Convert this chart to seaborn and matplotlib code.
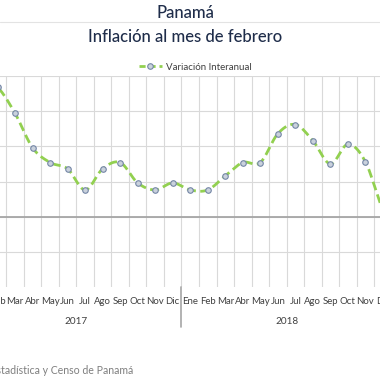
import numpy as np
import pandas as pd
import matplotlib
matplotlib.use('Agg')
import matplotlib.pyplot as plt
import matplotlib.transforms as mtransforms
from matplotlib.lines import Line2D
import seaborn as sns

# Monthly year-on-year inflation, Ene 2017 .. Feb 2019
months = ['Ene', 'Feb', 'Mar', 'Abr', 'May', 'Jun', 'Jul', 'Ago', 'Sep', 'Oct', 'Nov', 'Dic',
          'Ene', 'Feb', 'Mar', 'Abr', 'May', 'Jun', 'Jul', 'Ago', 'Sep', 'Oct', 'Nov', 'Dic',
          'Ene', 'Feb']
years = ['2017', '2018']
variacion = [1.95, 1.84, 1.47, 0.98, 0.77, 0.68, 0.38, 0.68, 0.77, 0.48, 0.38, 0.48,
             0.38, 0.38, 0.58, 0.77, 0.77, 1.18, 1.31, 1.08, 0.75, 1.03, 0.78, 0.10,
             -0.25, -0.45]

df = pd.DataFrame({'idx': np.arange(len(months)), 'mes': months, 'valor': variacion})

sns.set_style('white')
plt.rcParams['font.family'] = ['Lato', 'DejaVu Sans']

W = 380.0
fig = plt.figure(figsize=(3.8, 3.8), dpi=100)

# axes wider than the figure: the picture is a crop of a wider chart
step = 17.52
x0 = -20.0
left_px = x0 - step / 2
right_px = x0 + (len(months) - 0.5) * step
top_px, bot_px = 76.0, 287.0
ax = fig.add_axes([left_px / W, 1 - bot_px / W, (right_px - left_px) / W, (bot_px - top_px) / W])


def smooth(xs, ys, n=20):
    # Catmull-Rom style curve like Excel's smoothed line
    xs = np.asarray(xs, float)
    ys = np.asarray(ys, float)
    px = np.concatenate([[xs[0]], xs, [xs[-1]]])
    py = np.concatenate([[ys[0]], ys, [ys[-1]]])
    out_x, out_y = [], []
    t = np.linspace(0, 1, n)
    for i in range(1, len(px) - 2):
        p0 = np.array([px[i], py[i]])
        p3 = np.array([px[i + 1], py[i + 1]])
        c1 = p0 + (np.array([px[i + 1], py[i + 1]]) - np.array([px[i - 1], py[i - 1]])) / 6
        c2 = p3 - (np.array([px[i + 2], py[i + 2]]) - np.array([px[i], py[i]])) / 6
        b = ((1 - t) ** 3)[:, None] * p0 + (3 * (1 - t) ** 2 * t)[:, None] * c1 \
            + (3 * (1 - t) * t ** 2)[:, None] * c2 + (t ** 3)[:, None] * p3
        out_x.extend(b[:, 0])
        out_y.extend(b[:, 1])
    return out_x, out_y


sx, sy = smooth(df['idx'], df['valor'])
ax.plot(sx, sy, color='#92d050', lw=2.0, dashes=(3.2, 1.6), zorder=3)
sns.scatterplot(data=df, x='idx', y='valor', ax=ax, s=16, color='#c9d1dc',
                edgecolor='#7486a6', linewidth=0.8, zorder=4, legend=False)

ax.set_xlim(-0.5, len(months) - 0.5)
ax.set_ylim(-1.0, 2.0)
ax.set_yticks([-0.5, 0, 0.5, 1.0, 1.5, 2.0])
ax.set_yticklabels([])
ax.set_xticks(np.arange(len(months)))
ax.set_xticklabels(months, fontsize=6.9, color='#404040')
ax.set_xticks(np.arange(len(months)) + 0.5, minor=True)
ax.tick_params(axis='x', which='both', length=0, pad=7)
ax.tick_params(axis='y', length=0)
ax.grid(True, axis='y', color='#d9d9d9', lw=0.8)
ax.grid(True, axis='x', which='minor', color='#d9d9d9', lw=0.8)
ax.axhline(0, color='#a6a6a6', lw=1.3, zorder=2)
for s in ax.spines.values():
    s.set_visible(False)
ax.set_xlabel('')
ax.set_ylabel('')

# year group labels and separators
trans = mtransforms.blended_transform_factory(ax.transData, ax.transAxes)
for k, yr in enumerate(years):
    ax.text(12 * k + 5.5, -0.165, yr, transform=trans, ha='center', va='center',
            fontsize=7.2, color='#404040')
    ax.plot([12 * k + 11.5, 12 * k + 11.5], [0, -0.19], transform=trans,
            color='#a6a6a6', lw=1.2, clip_on=False)

# titles
fig.text(185 / W, 1 - 12.5 / W, 'Panamá', ha='center', va='center', fontsize=12,
         color='#1f2d4a', fontweight=500)
fig.add_artist(Line2D([0, 1], [1 - 21.5 / W, 1 - 21.5 / W], color='#e3e3e3', lw=0.8))
fig.text(185.5 / W, 1 - 37 / W, 'Inflación al mes de febrero', ha='center', va='center',
         fontsize=12, color='#1f2d4a', fontweight=500)

handle = Line2D([], [], color='#92d050', lw=2.0, dashes=(2.2, 1.4), marker='o',
                markersize=4, markerfacecolor='#c9d1dc', markeredgecolor='#7486a6',
                markeredgewidth=0.8)
fig.legend([handle], ['Variación Interanual'], loc='center', bbox_to_anchor=(195 / W, 1 - 67 / W),
           frameon=False, fontsize=7.0, handlelength=2.4, handletextpad=0.4,
           labelcolor='#404040')

fig.text(133 / W, 1 - 370 / W, 'Fuente: Instituto Nacional de Estadística y Censo de Panamá',
         ha='right', va='center', fontsize=7.6, color='#7f7f7f')

fig.savefig('out.png', dpi=100)
